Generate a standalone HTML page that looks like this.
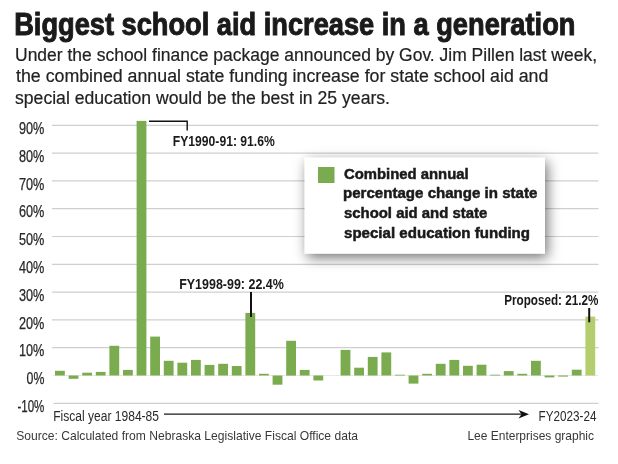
<!DOCTYPE html>
<html><head><meta charset="utf-8"><style>
html,body{margin:0;padding:0;background:#fff;}
body{width:618px;height:464px;overflow:hidden;position:relative;}
svg{position:absolute;left:0;top:0;display:block;}
text{font-family:"Liberation Sans",sans-serif;}
</style></head><body>
<svg width="618" height="464" viewBox="0 0 618 464">
<defs>
<filter id="sh" x="-30%" y="-50%" width="160%" height="200%">
<feDropShadow dx="2.5" dy="4" stdDeviation="6.5" flood-color="#000" flood-opacity="0.55"/>
</filter>
</defs>
<text id="title" x="14.20" y="34.90" textLength="561.20" lengthAdjust="spacingAndGlyphs" style="font-size:31px;font-weight:bold;fill:#1a1a1a;stroke:#1a1a1a;stroke-width:1px;">Biggest school aid increase in a generation</text>
<text id="sub1" x="15.00" y="60.80" textLength="582.00" lengthAdjust="spacingAndGlyphs" style="font-size:17.5px;font-weight:normal;fill:#222;stroke:#222;stroke-width:0.2px;">Under the school finance package announced by Gov. Jim Pillen last week,</text>
<text id="sub2" x="16.00" y="82.40" textLength="532.40" lengthAdjust="spacingAndGlyphs" style="font-size:17.5px;font-weight:normal;fill:#222;stroke:#222;stroke-width:0.2px;">the combined annual state funding increase for state school aid and</text>
<text id="sub3" x="15.00" y="104.20" textLength="375.00" lengthAdjust="spacingAndGlyphs" style="font-size:17.5px;font-weight:normal;fill:#222;stroke:#222;stroke-width:0.2px;">special education would be the best in 25 years.</text>
<line x1="53.5" y1="403.3" x2="598.5" y2="403.3" stroke="#cfcfcf" stroke-width="1.2"/><line x1="53" y1="375.5" x2="598" y2="375.5" stroke="#e8e8e8" stroke-width="1"/><line x1="52" y1="347.7" x2="598.5" y2="347.7" stroke="#cfcfcf" stroke-width="1.2"/><line x1="52" y1="319.9" x2="598.5" y2="319.9" stroke="#cfcfcf" stroke-width="1.2"/><line x1="52" y1="292.1" x2="598.5" y2="292.1" stroke="#cfcfcf" stroke-width="1.2"/><line x1="52" y1="264.3" x2="598.5" y2="264.3" stroke="#cfcfcf" stroke-width="1.2"/><line x1="52" y1="236.5" x2="598.5" y2="236.5" stroke="#cfcfcf" stroke-width="1.2"/><line x1="52" y1="208.7" x2="598.5" y2="208.7" stroke="#cfcfcf" stroke-width="1.2"/><line x1="52" y1="180.9" x2="598.5" y2="180.9" stroke="#cfcfcf" stroke-width="1.2"/><line x1="52" y1="153.1" x2="598.5" y2="153.1" stroke="#cfcfcf" stroke-width="1.2"/><line x1="52" y1="125.3" x2="598.5" y2="125.3" stroke="#cfcfcf" stroke-width="1.2"/>
<text id="y-1" x="17.40" y="411.90" textLength="27.00" lengthAdjust="spacingAndGlyphs" style="font-size:15.6px;font-weight:normal;fill:#282828;stroke:#282828;stroke-width:0.25px;">-10%</text><text id="y0" x="26.60" y="384.10" textLength="17.80" lengthAdjust="spacingAndGlyphs" style="font-size:15.6px;font-weight:normal;fill:#282828;stroke:#282828;stroke-width:0.25px;">0%</text><text id="y1" x="19.00" y="356.30" textLength="25.40" lengthAdjust="spacingAndGlyphs" style="font-size:15.6px;font-weight:normal;fill:#282828;stroke:#282828;stroke-width:0.25px;">10%</text><text id="y2" x="19.00" y="328.50" textLength="25.40" lengthAdjust="spacingAndGlyphs" style="font-size:15.6px;font-weight:normal;fill:#282828;stroke:#282828;stroke-width:0.25px;">20%</text><text id="y3" x="19.00" y="300.70" textLength="25.40" lengthAdjust="spacingAndGlyphs" style="font-size:15.6px;font-weight:normal;fill:#282828;stroke:#282828;stroke-width:0.25px;">30%</text><text id="y4" x="19.00" y="272.90" textLength="25.40" lengthAdjust="spacingAndGlyphs" style="font-size:15.6px;font-weight:normal;fill:#282828;stroke:#282828;stroke-width:0.25px;">40%</text><text id="y5" x="19.00" y="245.10" textLength="25.40" lengthAdjust="spacingAndGlyphs" style="font-size:15.6px;font-weight:normal;fill:#282828;stroke:#282828;stroke-width:0.25px;">50%</text><text id="y6" x="19.00" y="217.30" textLength="25.40" lengthAdjust="spacingAndGlyphs" style="font-size:15.6px;font-weight:normal;fill:#282828;stroke:#282828;stroke-width:0.25px;">60%</text><text id="y7" x="19.00" y="189.50" textLength="25.40" lengthAdjust="spacingAndGlyphs" style="font-size:15.6px;font-weight:normal;fill:#282828;stroke:#282828;stroke-width:0.25px;">70%</text><text id="y8" x="19.00" y="161.70" textLength="25.40" lengthAdjust="spacingAndGlyphs" style="font-size:15.6px;font-weight:normal;fill:#282828;stroke:#282828;stroke-width:0.25px;">80%</text><text id="y9" x="19.00" y="133.90" textLength="25.40" lengthAdjust="spacingAndGlyphs" style="font-size:15.6px;font-weight:normal;fill:#282828;stroke:#282828;stroke-width:0.25px;">90%</text>
<rect x="55.0" y="370.8" width="9.8" height="4.7" fill="#7aab4e"/><rect x="68.6" y="375.5" width="9.8" height="3.3" fill="#7aab4e"/><rect x="82.2" y="372.7" width="9.8" height="2.8" fill="#7aab4e"/><rect x="95.8" y="371.9" width="9.8" height="3.6" fill="#7aab4e"/><rect x="109.4" y="345.8" width="9.8" height="29.7" fill="#7aab4e"/><rect x="123.0" y="369.9" width="9.8" height="5.6" fill="#7aab4e"/><rect x="136.6" y="120.9" width="9.8" height="254.6" fill="#7aab4e"/><rect x="150.2" y="336.6" width="9.8" height="38.9" fill="#7aab4e"/><rect x="163.8" y="360.8" width="9.8" height="14.7" fill="#7aab4e"/><rect x="177.4" y="362.7" width="9.8" height="12.8" fill="#7aab4e"/><rect x="191.0" y="359.9" width="9.8" height="15.6" fill="#7aab4e"/><rect x="204.6" y="364.9" width="9.8" height="10.6" fill="#7aab4e"/><rect x="218.2" y="363.8" width="9.8" height="11.7" fill="#7aab4e"/><rect x="231.8" y="366.0" width="9.8" height="9.5" fill="#7aab4e"/><rect x="245.4" y="312.9" width="9.8" height="62.5" fill="#7aab4e"/><rect x="259.0" y="373.8" width="9.8" height="1.7" fill="#7aab4e"/><rect x="272.6" y="375.5" width="9.8" height="9.2" fill="#7aab4e"/><rect x="286.2" y="340.8" width="9.8" height="34.8" fill="#7aab4e"/><rect x="299.8" y="369.9" width="9.8" height="5.6" fill="#7aab4e"/><rect x="313.4" y="375.5" width="9.8" height="5.0" fill="#7aab4e"/><rect x="340.6" y="349.9" width="9.8" height="25.6" fill="#7aab4e"/><rect x="354.2" y="367.7" width="9.8" height="7.8" fill="#7aab4e"/><rect x="367.8" y="356.9" width="9.8" height="18.6" fill="#7aab4e"/><rect x="381.4" y="352.4" width="9.8" height="23.1" fill="#7aab4e"/><rect x="395.0" y="374.7" width="9.8" height="0.8" fill="#7aab4e"/><rect x="408.6" y="375.5" width="9.8" height="8.1" fill="#7aab4e"/><rect x="422.2" y="373.8" width="9.8" height="1.7" fill="#7aab4e"/><rect x="435.8" y="363.8" width="9.8" height="11.7" fill="#7aab4e"/><rect x="449.4" y="359.9" width="9.8" height="15.6" fill="#7aab4e"/><rect x="463.0" y="365.8" width="9.8" height="9.7" fill="#7aab4e"/><rect x="476.6" y="364.7" width="9.8" height="10.8" fill="#7aab4e"/><rect x="490.2" y="374.7" width="9.8" height="0.8" fill="#7aab4e"/><rect x="503.8" y="371.1" width="9.8" height="4.4" fill="#7aab4e"/><rect x="517.4" y="373.8" width="9.8" height="1.7" fill="#7aab4e"/><rect x="531.0" y="360.8" width="9.8" height="14.7" fill="#7aab4e"/><rect x="544.6" y="375.5" width="9.8" height="1.9" fill="#7aab4e"/><rect x="558.2" y="375.5" width="9.8" height="1.1" fill="#7aab4e"/><rect x="571.8" y="369.7" width="9.8" height="5.8" fill="#7aab4e"/><rect x="585.4" y="316.6" width="9.8" height="58.9" fill="#b4cd6e"/>
<polyline points="149,121.3 187.2,121.3 187.2,130.4" fill="none" stroke="#111" stroke-width="1.4"/>
<text id="an1" x="172.80" y="146.00" textLength="102.00" lengthAdjust="spacingAndGlyphs" style="font-size:15px;font-weight:bold;fill:#1a1a1a;">FY1990-91: 91.6%</text>
<line x1="251" y1="292" x2="251" y2="317" stroke="#111" stroke-width="2"/>
<text id="an2" x="179.20" y="288.60" textLength="104.60" lengthAdjust="spacingAndGlyphs" style="font-size:15px;font-weight:bold;fill:#1a1a1a;">FY1998-99: 22.4%</text>
<line x1="589.2" y1="308" x2="589.2" y2="322.3" stroke="#111" stroke-width="2"/>
<text id="an3" x="504.20" y="304.50" textLength="94.20" lengthAdjust="spacingAndGlyphs" style="font-size:15px;font-weight:bold;fill:#1a1a1a;">Proposed: 21.2%</text>
<rect x="304.7" y="157.8" width="240.3" height="95.8" fill="#fff" filter="url(#sh)"/>
<rect x="318" y="167" width="16.5" height="16" fill="#7aab4e"/>
<text id="lg1" x="344.00" y="178.80" textLength="124.60" lengthAdjust="spacingAndGlyphs" style="font-size:15px;font-weight:bold;fill:#1a1a1a;stroke:#1a1a1a;stroke-width:0.5px;">Combined annual</text>
<text id="lg2" x="343.00" y="198.40" textLength="194.40" lengthAdjust="spacingAndGlyphs" style="font-size:15px;font-weight:bold;fill:#1a1a1a;stroke:#1a1a1a;stroke-width:0.5px;">percentage change in state</text>
<text id="lg3" x="344.00" y="218.40" textLength="143.20" lengthAdjust="spacingAndGlyphs" style="font-size:15px;font-weight:bold;fill:#1a1a1a;stroke:#1a1a1a;stroke-width:0.5px;">school aid and state</text>
<text id="lg4" x="344.00" y="238.40" textLength="186.00" lengthAdjust="spacingAndGlyphs" style="font-size:15px;font-weight:bold;fill:#1a1a1a;stroke:#1a1a1a;stroke-width:0.5px;">special education funding</text>
<text id="fy1" x="53.20" y="420.60" textLength="105.80" lengthAdjust="spacingAndGlyphs" style="font-size:15.3px;font-weight:normal;fill:#2a2a2a;">Fiscal year 1984-85</text>
<line x1="164" y1="414.2" x2="522" y2="414.2" stroke="#1a1a1a" stroke-width="1.3"/>
<path d="M529,414.2 L518.5,410 L521.5,414.2 L518.5,418.4 Z" fill="#111"/>
<text id="fy2" x="538.60" y="420.80" textLength="57.80" lengthAdjust="spacingAndGlyphs" style="font-size:15.3px;font-weight:normal;fill:#2a2a2a;">FY2023-24</text>
<text id="src" x="16.20" y="439.60" textLength="341.80" lengthAdjust="spacingAndGlyphs" style="font-size:12.8px;font-weight:normal;fill:#383838;">Source: Calculated from Nebraska Legislative Fiscal Office data</text>
<text id="lee" x="467.40" y="439.60" textLength="126.60" lengthAdjust="spacingAndGlyphs" style="font-size:12.8px;font-weight:normal;fill:#383838;">Lee Enterprises graphic</text>
</svg>
</body></html>
